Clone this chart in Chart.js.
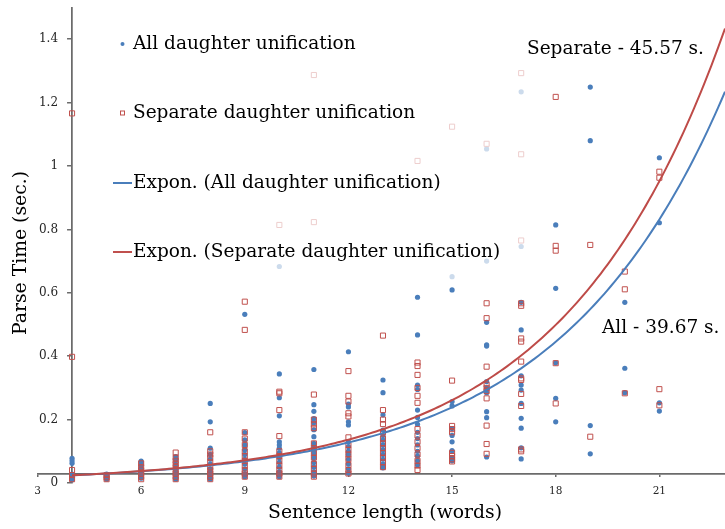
<!DOCTYPE html>
<html>
<head>
<meta charset="utf-8">
<script src="https://cdn.jsdelivr.net/npm/chart.js@4.4.1/dist/chart.umd.min.js"></script>
<style>
  html, body { margin: 0; padding: 0; background: #fff; overflow: hidden; }
</style>
</head>
<body>
<!-- a few px wider than the window: Chart.js keeps ~5px for point overflow on the right -->
<canvas id="myChart" width="730" height="529"></canvas>
<script>
// sentence lengths (x) and the parse times read for each length
const lengths = [4, 5, 6, 7, 8, 9, 10, 11, 12, 13, 14, 15, 16, 17, 18, 19, 20, 21];

const allDaughter = [
    [0.078, 0.07, 0.062, 0.028, 0.018, 0.01],
    [0.028, 0.02, 0.012],
    [0.069, 0.062, 0.055, 0.045, 0.035, 0.025, 0.015],
    [0.083, 0.072, 0.06, 0.05, 0.04, 0.03, 0.02, 0.012],
    [0.251, 0.193, 0.11, 0.09, 0.075, 0.06, 0.045, 0.035, 0.02, 0.012],
    [0.532, 0.159, 0.136, 0.12, 0.105, 0.09, 0.075, 0.06, 0.045, 0.03, 0.02],
    [0.683, 0.344, 0.269, 0.212, 0.13, 0.12, 0.11, 0.095, 0.08, 0.065, 0.05, 0.035, 0.02],
    [0.358, 0.247, 0.226, 0.203, 0.19, 0.168, 0.146, 0.125, 0.11, 0.095, 0.08, 0.065, 0.05, 0.035, 0.022],
    [0.414, 0.249, 0.24, 0.193, 0.183, 0.13, 0.115, 0.1, 0.09, 0.075, 0.06, 0.045, 0.031],
    [0.325, 0.285, 0.215, 0.167, 0.15, 0.135, 0.12, 0.105, 0.09, 0.075, 0.06, 0.048],
    [0.586, 0.467, 0.309, 0.295, 0.23, 0.207, 0.185, 0.16, 0.14, 0.12, 0.1, 0.085, 0.07, 0.057],
    [0.651, 0.609, 0.257, 0.243, 0.172, 0.15, 0.13, 0.102, 0.08, 0.07],
    [1.054, 0.70, 0.507, 0.436, 0.432, 0.32, 0.3, 0.285, 0.225, 0.206, 0.082],
    [1.234, 0.746, 0.57, 0.483, 0.338, 0.309, 0.293, 0.251, 0.204, 0.173, 0.111, 0.076],
    [0.814, 0.614, 0.379, 0.267, 0.193],
    [1.249, 1.08, 0.181, 0.092],
    [0.57, 0.362, 0.285],
    [1.026, 0.821, 0.253, 0.227]
];

const separateDaughter = [
    [1.166, 0.398, 0.041, 0.025, 0.012],
    [0.025, 0.018, 0.012],
    [0.062, 0.05, 0.04, 0.03, 0.02, 0.012],
    [0.096, 0.08, 0.07, 0.06, 0.05, 0.04, 0.03, 0.02, 0.012],
    [0.16, 0.1, 0.09, 0.08, 0.065, 0.05, 0.04, 0.03, 0.02, 0.012],
    [0.572, 0.483, 0.16, 0.14, 0.12, 0.1, 0.085, 0.07, 0.055, 0.04, 0.03, 0.02],
    [0.814, 0.288, 0.283, 0.23, 0.148, 0.1, 0.085, 0.07, 0.055, 0.04, 0.03, 0.02],
    [1.287, 0.823, 0.279, 0.2, 0.185, 0.173, 0.125, 0.11, 0.095, 0.08, 0.06, 0.045, 0.03, 0.02],
    [0.353, 0.275, 0.257, 0.22, 0.21, 0.144, 0.12, 0.105, 0.09, 0.075, 0.057, 0.041, 0.03],
    [0.465, 0.23, 0.2, 0.186, 0.16, 0.14, 0.125, 0.11, 0.095, 0.08, 0.065, 0.05],
    [1.016, 0.38, 0.369, 0.341, 0.3, 0.275, 0.253, 0.17, 0.15, 0.13, 0.11, 0.09, 0.07, 0.055, 0.041],
    [1.124, 0.323, 0.18, 0.17, 0.16, 0.095, 0.085, 0.075, 0.068],
    [1.07, 0.567, 0.52, 0.367, 0.31, 0.3, 0.29, 0.267, 0.181, 0.123, 0.092],
    [1.293, 1.037, 0.765, 0.567, 0.559, 0.456, 0.446, 0.383, 0.33, 0.325, 0.281, 0.243, 0.106, 0.1],
    [1.218, 0.748, 0.733, 0.378, 0.251],
    [0.751, 0.146],
    [0.667, 0.611, 0.283],
    [0.982, 0.963, 0.296, 0.245]
];

// exponential trendlines y = a * e^(b x), coefficients
const allTrend = [0.01054, 0.208];
const separateTrend = [0.01031, 0.2155];

const xTicks = [3, 6, 9, 12, 15, 18, 21];
const yTicks = [0, 0.2, 0.4, 0.6, 0.8, 1, 1.2, 1.4];
const yTickLabels = ['0', '0.2', '0.4', '0.6', '0.8', '1', '1.2', '1.4'];

const seriesNames = ['All daughter unification', 'Separate daughter unification'];
const trendNames = ['Expon. (All daughter unification)', 'Expon. (Separate daughter unification)'];
const totalNotes = ['Separate - 45.57 s.', 'All - 39.67 s.'];

const xTitle = 'Sentence length (words)';
const yTitle = 'Parse Time (sec.)';

const X_MIN = 3, X_MAX = 22.9, Y_MIN = 0, Y_MAX = 1.5;
const Y_AXIS_AT_X = 4;      // vertical axis crosses here
const X_AXIS_AT_Y = 0.028;  // horizontal axis crosses here

const BLUE = '#4a7ebb';
const RED = '#c0504d';
const AXIS = '#6b6b6b';
const SERIF = 'DejaVu Serif';

//--- helpers
function toPoints(groups) {
    var pts = [];
    groups.forEach(function (g, i) {
        g.forEach(function (v) { pts.push({ x: lengths[i], y: v }); });
    });
    return pts;
}

function trendLine(coef) {
    var line = [];
    for (var x = lengths[0]; x < X_MAX; x += 0.1) line.push({ x: x, y: coef[0] * Math.exp(coef[1] * x) });
    line.push({ x: X_MAX, y: coef[0] * Math.exp(coef[1] * X_MAX) });
    return line;
}

function noPadding(s) {
    s.paddingTop = 0; s.paddingBottom = 0; s.paddingLeft = 0; s.paddingRight = 0;
}

// legend inside the plot, with a see-through white box like the original
const insideLegend = {
    id: 'insideLegend',
    afterLayout(chart) {
        // put each axis line where the other axis crosses it
        const x = chart.scales.x, y = chart.scales.y;
        const cx = x.getPixelForValue(Y_AXIS_AT_X);
        const w = y.width;
        y.right = cx; y.left = cx - w;
        const cy = y.getPixelForValue(X_AXIS_AT_Y);
        const h = x.height;
        x.top = cy; x.bottom = cy + h;
    },
    afterDatasetsDraw(chart) {
        const ctx = chart.ctx;
        ctx.save();
        ctx.fillStyle = 'rgba(255,255,255,0.72)';
        ctx.fillRect(98, 14, 437, 270);
        const rows = [44, 113, 183, 252];
        const labels = [seriesNames[0], seriesNames[1], trendNames[0], trendNames[1]];
        ctx.font = '18.5px "' + SERIF + '"';
        ctx.fillStyle = '#000';
        ctx.textBaseline = 'middle';
        labels.forEach(function (t, i) { ctx.fillText(t, 133, rows[i]); });
        // markers
        ctx.fillStyle = BLUE;
        ctx.beginPath(); ctx.arc(122.5, rows[0], 2, 0, Math.PI * 2); ctx.fill();
        ctx.strokeStyle = RED; ctx.lineWidth = 1;
        ctx.strokeRect(120.5, rows[1] - 2, 4, 4);
        ctx.lineWidth = 2;
        ctx.strokeStyle = BLUE;
        ctx.beginPath(); ctx.moveTo(113, rows[2]); ctx.lineTo(132, rows[2]); ctx.stroke();
        ctx.strokeStyle = RED;
        ctx.beginPath(); ctx.moveTo(113, rows[3]); ctx.lineTo(132, rows[3]); ctx.stroke();
        ctx.restore();
    },
    afterDraw(chart) {
        const ctx = chart.ctx;
        ctx.save();
        ctx.fillStyle = '#000';
        ctx.textBaseline = 'middle';
        ctx.font = '18.5px "' + SERIF + '"';
        ctx.fillText(totalNotes[0], 527, 49);
        ctx.fillText(totalNotes[1], 602, 328);
        ctx.font = '18.8px "' + SERIF + '"';
        ctx.textAlign = 'center';
        ctx.fillText(xTitle, 385, 513);
        ctx.translate(21, 253);
        ctx.rotate(-Math.PI / 2);
        ctx.fillText(yTitle, 0, 0);
        ctx.restore();
    }
};

const ctx = document.getElementById('myChart');

new Chart(ctx, {
    type: 'scatter',
    data: {
        datasets: [{
            label: seriesNames[0],
            data: toPoints(allDaughter),
            backgroundColor: BLUE,
            borderColor: BLUE,
            borderWidth: 0,
            pointRadius: 2.6,
            order: 4
        }, {
            label: seriesNames[1],
            data: toPoints(separateDaughter),
            pointStyle: 'rect',
            backgroundColor: 'rgba(0,0,0,0)',
            borderColor: RED,
            borderWidth: 1,
            pointRadius: 3.6,
            order: 3
        }, {
            label: trendNames[0],
            data: trendLine(allTrend),
            showLine: true,
            borderColor: BLUE,
            borderWidth: 2,
            pointRadius: 0,
            order: 2
        }, {
            label: trendNames[1],
            data: trendLine(separateTrend),
            showLine: true,
            borderColor: '#be4b48',
            borderWidth: 2,
            pointRadius: 0,
            order: 1
        }]
    },
    options: {
        responsive: false,
        animation: false,
        devicePixelRatio: 1,
        layout: { padding: { left: 2.5, right: 0, top: 7.5, bottom: 26 } },
        plugins: {
            legend: { display: false },
            tooltip: { enabled: false }
        },
        scales: {
            x: {
                type: 'linear',
                position: 'bottom',
                min: X_MIN,
                max: X_MAX,
                afterFit: function (s) { s.height = 20; noPadding(s); },
                afterBuildTicks: function (s) { s.ticks = xTicks.map(function (v) { return { value: v }; }); },
                ticks: {
                    autoSkip: false, maxRotation: 0, padding: 8,
                    font: { family: SERIF, size: 10.5 }, color: '#262626'
                },
                grid: { display: true, drawOnChartArea: false, drawTicks: true, tickLength: 3, color: AXIS, lineWidth: 1.5 },
                border: { display: true, color: AXIS, width: 1.75 }
            },
            y: {
                type: 'linear',
                position: 'left',
                min: Y_MIN,
                max: Y_MAX,
                afterFit: function (s) { s.width = 35; noPadding(s); },
                afterBuildTicks: function (s) { s.ticks = yTicks.map(function (v) { return { value: v }; }); },
                ticks: {
                    padding: 9,
                    callback: function (v, i) { return yTickLabels[i]; },
                    font: { family: SERIF, size: 12 }, color: '#262626'
                },
                grid: { display: true, drawOnChartArea: false, drawTicks: true, tickLength: 5, color: AXIS, lineWidth: 1.5 },
                border: { display: true, color: AXIS, width: 1.75 }
            }
        }
    },
    plugins: [insideLegend]
});
</script>
</body>
</html>
